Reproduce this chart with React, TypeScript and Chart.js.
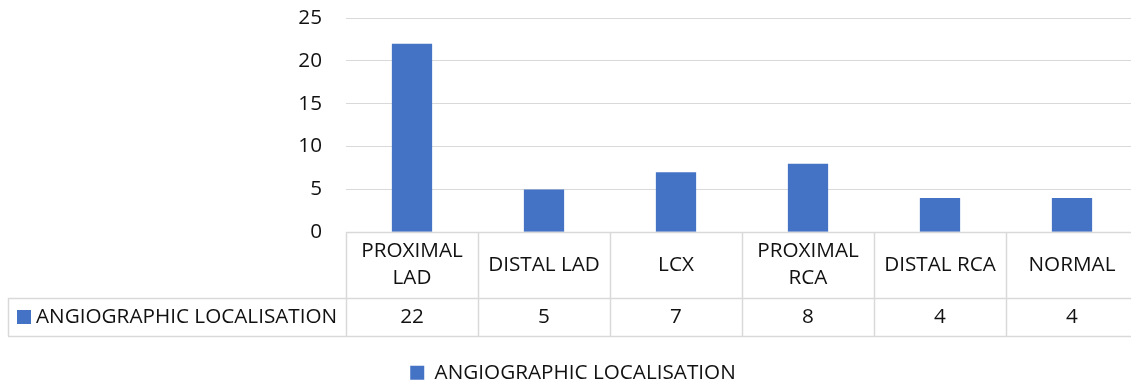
import React, { useEffect, useRef } from "react";
import { Chart, registerables } from "chart.js";

Chart.register(...registerables);

// Chart data
const categories: (string | string[])[] = [
  ["PROXIMAL", "LAD"],
  "DISTAL LAD",
  "LCX",
  ["PROXIMAL", "RCA"],
  "DISTAL RCA",
  "NORMAL",
];
const seriesName = "ANGIOGRAPHIC LOCALISATION";
const seriesValues = [22, 5, 7, 8, 4, 4];
const yMin = 0;
const yMax = 25;
const yStep = 5;

const BAR_COLOR = "#4472C4";
const LINE_COLOR = "#d9d9d9";
const TEXT_COLOR = "#111111";
const FONT_FAMILY = "'Open Sans', 'Liberation Sans', sans-serif";
const FONT_SIZE = 20.7;

// the canvas is a little larger than the visible frame, which crops it
const VIEW_W = 1131;
const VIEW_H = 387;
const CANVAS_W = 1140;
const CANVAS_H = 393;
const LEFT_COL_W = 338; // width of the series-name column of the data table
const HEADER_H = 66;
const ROW_H = 38;

// Draws the Excel-style data table under the plot area
const dataTablePlugin = {
  id: "dataTable",
  afterDraw(chart: Chart) {
    const ctx = chart.ctx;
    const area = chart.chartArea;
    const xScale = chart.scales.x;
    const n = seriesValues.length;
    const colW = (xScale.right - xScale.left) / n;
    const top = Math.round(area.bottom);
    const headerBottom = top + HEADER_H;
    const rowBottom = headerBottom + ROW_H;
    const tableLeft = Math.round(area.left) - LEFT_COL_W;
    const right = chart.width;

    ctx.save();
    ctx.strokeStyle = LINE_COLOR;
    ctx.lineWidth = 1.5;
    const hLine = (y: number, x0: number, x1: number) => {
      ctx.beginPath();
      ctx.moveTo(x0, y + 0.5);
      ctx.lineTo(x1, y + 0.5);
      ctx.stroke();
    };
    const vLine = (x: number, y0: number, y1: number) => {
      ctx.beginPath();
      ctx.moveTo(x + 0.5, y0);
      ctx.lineTo(x + 0.5, y1);
      ctx.stroke();
    };
    hLine(top, area.left, right);
    hLine(headerBottom, tableLeft, right);
    hLine(rowBottom, tableLeft, right);
    vLine(tableLeft, headerBottom, rowBottom);
    for (let i = 0; i <= n; i++) {
      const x = Math.round(xScale.left + i * colW);
      vLine(x, top, rowBottom);
    }

    ctx.fillStyle = TEXT_COLOR;
    ctx.font = `${FONT_SIZE}px ${FONT_FAMILY}`;
    ctx.textAlign = "center";
    ctx.textBaseline = "middle";
    const lh = 27;
    categories.forEach((cat, i) => {
      const lines = Array.isArray(cat) ? cat : [cat];
      const cx = xScale.getPixelForValue(i);
      const cy = (top + headerBottom) / 2;
      const y0 = cy - ((lines.length - 1) * lh) / 2;
      lines.forEach((t, j) => ctx.fillText(t, cx, y0 + j * lh));
      ctx.fillText(String(seriesValues[i]), cx, (headerBottom + rowBottom) / 2);
    });

    // series key in the first column
    const rowMid = (headerBottom + rowBottom) / 2;
    ctx.fillStyle = BAR_COLOR;
    ctx.fillRect(tableLeft + 9, rowMid - 7, 14, 14);
    ctx.fillStyle = TEXT_COLOR;
    ctx.textAlign = "left";
    ctx.fillText(seriesName, tableLeft + 28, rowMid);
    ctx.restore();
  },
};

export default function App() {
  const canvasRef = useRef<HTMLCanvasElement | null>(null);

  useEffect(() => {
    const canvas = canvasRef.current;
    if (!canvas) return;
    const chart = new Chart(canvas, {
      type: "bar",
      data: {
        labels: categories,
        datasets: [
          {
            label: seriesName,
            data: seriesValues,
            backgroundColor: BAR_COLOR,
            categoryPercentage: 1,
            barPercentage: 0.305,
          },
        ],
      },
      options: {
        responsive: false,
        animation: false,
        layout: { padding: { top: 18, left: 8, right: 2, bottom: 0 } },
        scales: {
          x: {
            grid: { display: false },
            border: { display: false },
            ticks: { display: false },
            afterFit(scale: any) {
              scale.height = 130;
            },
          },
          y: {
            min: yMin,
            max: yMax,
            grid: {
              color: LINE_COLOR,
              drawTicks: true,
              tickLength: 24,
              tickColor: "rgba(0,0,0,0)",
            },
            border: { display: false },
            ticks: {
              stepSize: yStep,
              padding: 0,
              color: TEXT_COLOR,
              font: { family: FONT_FAMILY, size: FONT_SIZE },
            },
            afterFit(scale: any) {
              scale.width = LEFT_COL_W;
            },
          },
        },
        plugins: {
          legend: {
            position: "bottom",
            labels: {
              boxWidth: 14,
              boxHeight: 14,
              padding: 0,
              color: TEXT_COLOR,
              font: { family: FONT_FAMILY, size: FONT_SIZE },
            },
          },
          tooltip: { enabled: false },
        },
      },
      plugins: [dataTablePlugin],
    });
    return () => chart.destroy();
  }, []);

  return (
    <div
      style={{
        position: "fixed",
        left: 0,
        top: 0,
        width: VIEW_W,
        height: VIEW_H,
        overflow: "hidden",
        background: "#ffffff",
      }}
    >
      <canvas
        ref={canvasRef}
        width={CANVAS_W}
        height={CANVAS_H}
        style={{ display: "block", width: CANVAS_W, height: CANVAS_H }}
      />
    </div>
  );
}
